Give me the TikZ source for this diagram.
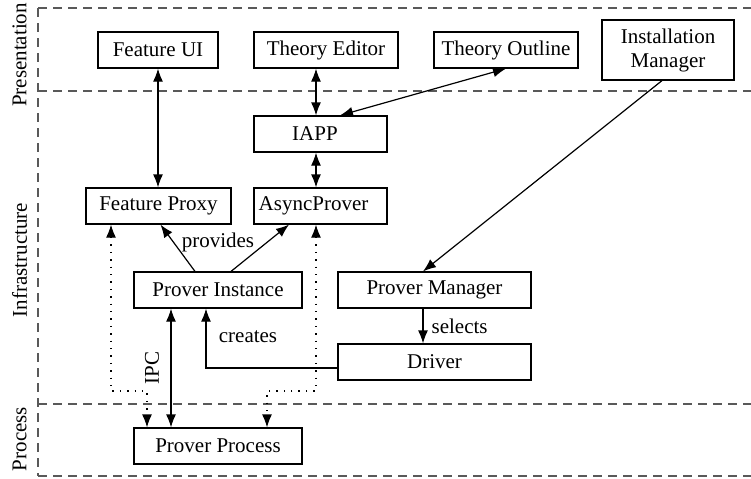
\documentclass[tikz,border=0pt]{standalone}
\usepackage{fontspec}
\setmainfont{Liberation Serif}
\usetikzlibrary{arrows.meta}
\begin{document}
\begin{tikzpicture}[x=0.5pt,y=-0.5pt,
  every node/.style={font=\fontsize{10.5}{12}\selectfont},
  box/.style={draw, line width=0.6pt, inner sep=0pt, minimum height=18pt},
  conn/.style={line width=0.6pt, -{Latex[length=6.5pt,width=5pt]}},
  biconn/.style={line width=0.6pt, {Latex[length=6.5pt,width=5pt]}-{Latex[length=6.5pt,width=5pt]}},
  dotconn/.style={biconn, dash pattern=on 0.7pt off 3pt},
  layer/.style={draw=black!65, line width=0.6pt, dash pattern=on 4.5pt off 3pt},
  layername/.style={rotate=90, inner sep=0pt},
  lbl/.style={inner sep=1pt}]
\useasboundingbox (0,0) rectangle (751,478);

% layer frame
\draw[layer] (38,8) -- (751,8);
\draw[layer] (38,91) -- (751,91);
\draw[layer] (38,404) -- (751,404);
\draw[layer] (38,476) -- (751,476);
\draw[layer] (38,8) -- (38,476);
\node[layername] (lpres) at (19.5,55) {Presentation};
\node[layername] (linfra) at (19.5,260) {Infrastructure};
\node[layername] (lproc) at (19.5,439) {Process};

% components
\node[box, minimum width=60pt] (fui) at (158,50) {Feature UI};
\node[box, minimum width=72pt] (ted) at (326,50) {Theory Editor};
\node[box, minimum width=72pt] (tout) at (506,50) {Theory Outline};
\node[box, minimum width=66pt, minimum height=30pt, align=center] (inst) at (668,50) {Installation\\Manager};
\node[box, minimum width=66.5pt, label={[xshift=-2.75pt]center:IAPP}] (iapp) at (320.5,134) {};
\node[box, minimum width=72.5pt] (fpx) at (158.5,206) {Feature Proxy};
\node[box, minimum width=66.5pt, label={[xshift=-3.5pt]center:AsyncProver}] (async) at (320.5,206) {};
\node[box, minimum width=84pt] (pinst) at (218,290) {Prover Instance};
\node[box, minimum width=96.5pt] (pman) at (434.5,290) {Prover Manager};
\node[box, minimum width=96.5pt] (drv) at (434.5,362) {Driver};
\node[box, minimum width=84pt] (pproc) at (218,446) {Prover Process};

% connectors
\draw[biconn] (fui.south) -- (fui.south |- fpx.north);
\draw[biconn] ([xshift=-5pt]ted.south) -- ([xshift=-5pt]ted.south |- iapp.north);
\draw[biconn] ([xshift=-2.25pt]iapp.south) -- ([xshift=-2.25pt]async.north);
\draw[biconn] ([xshift=9.75pt]iapp.north) -- (tout.south);
\draw[conn] ([xshift=-3pt]inst.south) -- ([xshift=-5.75pt]pman.north);
\draw[conn] ([xshift=-5.75pt]pman.south) -- node[right, lbl, xshift=3pt] (sel) {selects} ([xshift=-5.75pt]drv.north);
\draw[conn] ([xshift=-11.5pt]pinst.north) -- ([xshift=1pt]fpx.south);
\draw[conn] ([xshift=6.5pt]pinst.north) -- ([xshift=-15.75pt]async.south);
\node[lbl] (prov) at (218,242) {provides};
\draw[conn] ([yshift=-3pt]drv.west) -| ([xshift=-6pt]pinst.south);
\node[lbl] (crt) at (248,337) {creates};
\draw[biconn] ([xshift=-23.5pt]pinst.south) -- ([xshift=-23.5pt]pproc.north);

% inter-process links
\coordinate (ipcl) at (147,391);
\coordinate (ipcr) at (267,391);
\draw[dotconn] ([xshift=-23.75pt]fpx.south) |- (ipcl) -- (ipcl |- pproc.north);
\draw[dotconn] ([xshift=-2.25pt]async.south) |- (ipcr) -- (ipcr |- pproc.north);
\node[rotate=90, inner sep=0pt] (ipc) at (152,368) {IPC};
\end{tikzpicture}
\end{document}
